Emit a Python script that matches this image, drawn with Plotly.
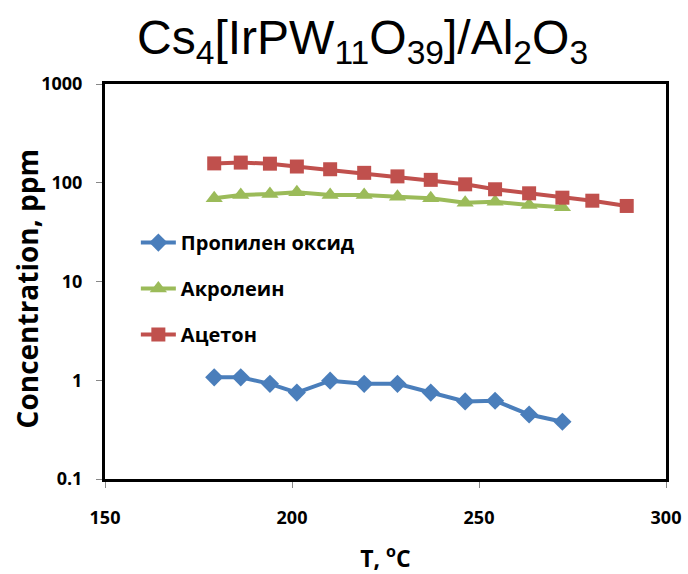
import plotly.graph_objects as go

# Temperature points, °C
temp_all = [179.2, 186.3, 194.1, 201.3, 210.2, 219.3, 228.2, 237.1,
            246.3, 254.3, 263.4, 272.3, 280.3, 289.5]
temp_short = temp_all[:12]

# Concentrations, ppm
propylene_oxide = [1.07, 1.07, 0.92, 0.75, 0.99, 0.92, 0.92, 0.75,
                   0.61, 0.62, 0.45, 0.38]
acrolein = [69.6, 75.2, 76.9, 80.0, 75.2, 75.0, 72.2, 69.6,
            62.8, 64.3, 59.5, 56.4]
acetone = [157, 160, 156, 146, 137, 126, 116, 107,
           96.4, 85.9, 78.2, 70.6, 65.8, 58.2]

names = ["Пропилен оксид", "Акролеин", "Ацетон"]
colors = ["#4A7EBB", "#9BBB59", "#C0504D"]

y_ticks = [0.1, 1, 10, 100, 1000]
y_tick_text = ["0.1", "1", "10", "100", "1000"]
x_ticks = [150, 200, 250, 300]

font_main = "'Open Sans', Lato, sans-serif"

fig = go.Figure()
fig.add_trace(go.Scatter(
    x=temp_short, y=propylene_oxide, name=names[0], mode="lines+markers",
    line=dict(color=colors[0], width=4),
    marker=dict(symbol="diamond", size=14, color=colors[0]),
    legendgroup="a"))
fig.add_trace(go.Scatter(
    x=temp_short, y=acrolein, name=names[1], mode="lines+markers",
    line=dict(color=colors[1], width=4),
    marker=dict(symbol="triangle-up", size=15, color=colors[1]),
    legendgroup="b"))
fig.add_trace(go.Scatter(
    x=temp_all, y=acetone, name=names[2], mode="lines+markers",
    line=dict(color=colors[2], width=4),
    marker=dict(symbol="square", size=14, color=colors[2]),
    legendgroup="c"))

# Vertical axis caption placed as a rotated annotation
fig.add_annotation(
    text="Concentration, ppm", textangle=-90,
    xref="paper", yref="paper", x=-0.139, y=0.48,
    xanchor="center", yanchor="middle", showarrow=False,
    font=dict(family=font_main, size=28, color="black", weight="bold"))

fig.update_layout(
    width=688, height=574,
    paper_bgcolor="white", plot_bgcolor="white",
    margin=dict(l=105, r=22, t=84, b=95),
    title=dict(
        text="Cs<sub>4</sub>[IrPW<sub>11</sub>O<sub>39</sub>]/Al<sub>2</sub>O<sub>3</sub>",
        xref="container", x=0.527, xanchor="center", y=0.965, yanchor="top",
        font=dict(family="'Liberation Sans', Arial, sans-serif", size=48, color="black")),
    legend=dict(
        x=0.055, y=0.648, xanchor="left", yanchor="top",
        bgcolor="rgba(0,0,0,0)", tracegroupgap=17, itemwidth=35,
        font=dict(family=font_main, size=20, color="black", weight="bold")),
    xaxis=dict(
        range=[150, 300], tickvals=x_ticks, ticks="outside", ticklen=6,
        tickcolor="#888", showgrid=False, zeroline=False, automargin=False,
        showline=True, linecolor="black", linewidth=3, mirror=True,
        ticklabelstandoff=14,
        tickfont=dict(family=font_main, size=18, color="black", weight="bold"),
        title=dict(text="T, <sup>o</sup>C", standoff=40,
                   font=dict(family=font_main, size=23, color="black", weight="bold"))),
    yaxis=dict(
        type="log", range=[-1, 3], tickvals=y_ticks, ticktext=y_tick_text,
        ticks="outside", ticklen=6, tickcolor="#888", showgrid=False,
        automargin=False,
        showline=True, linecolor="black", linewidth=3, mirror=True,
        ticklabelstandoff=10,
        tickfont=dict(family=font_main, size=18, color="black", weight="bold")),
)

fig.write_html("out.html")
